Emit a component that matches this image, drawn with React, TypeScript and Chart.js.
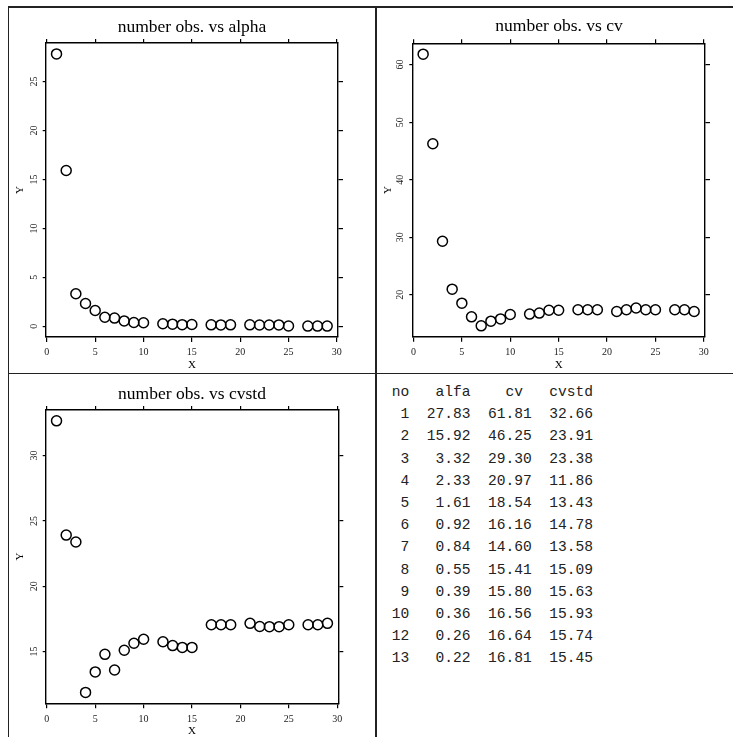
import React, { useEffect, useRef } from "react";
import { Chart, registerables } from "chart.js";

Chart.register(...registerables);

// observation numbers (x)
const obsNo = [1, 2, 3, 4, 5, 6, 7, 8, 9, 10, 12, 13, 14, 15, 17, 18, 19, 21, 22, 23, 24, 25, 27, 28, 29];
// series values
const alfa = [27.83, 15.92, 3.32, 2.33, 1.61, 0.92, 0.84, 0.55, 0.39, 0.36, 0.26, 0.22, 0.17, 0.18, 0.15, 0.14, 0.15, 0.15, 0.13, 0.13, 0.14, 0.03, 0.02, 0.02, 0.02];
const cv = [61.81, 46.25, 29.3, 20.97, 18.54, 16.16, 14.6, 15.41, 15.8, 16.56, 16.64, 16.81, 17.3, 17.3, 17.4, 17.4, 17.4, 17.1, 17.4, 17.7, 17.4, 17.4, 17.4, 17.4, 17.1];
const cvstd = [32.66, 23.91, 23.38, 11.86, 13.43, 14.78, 13.58, 15.09, 15.63, 15.93, 15.74, 15.45, 15.31, 15.31, 17.04, 17.04, 17.04, 17.15, 16.91, 16.9, 16.9, 17.04, 17.04, 17.04, 17.15];
const titles = ["number obs. vs alpha", "number obs. vs cv", "number obs. vs cvstd"];
const xTickStep = 5;
const yTickSteps = [5, 10, 5];
const tableRowCount = 12;
const tableHeader = "no   alfa    cv   cvstd";

const SERIF = "'Liberation Serif', 'Times New Roman', serif";

function extend(vals: number[]): [number, number] {
  const mn = Math.min(...vals);
  const mx = Math.max(...vals);
  const d = (mx - mn) * 0.04;
  return [mn - d, mx + d];
}

type Area = { l: number; t: number; r: number; b: number };

function Panel(props: {
  left: number; top: number; width: number; height: number; area: Area;
  title: string; titleCenter: number; ys: number[]; yStep: number;
}) {
  const { left, top, width, height, area, title, titleCenter, ys, yStep } = props;
  const ref = useRef<HTMLCanvasElement>(null);
  useEffect(() => {
    const [xmin, xmax] = extend(obsNo);
    const [ymin, ymax] = extend(ys);
    const titleSize = 17.5;
    const titleLH = titleSize * 1.2;
    const padTop = titleCenter - titleLH / 2;
    const topAxisH = area.t - padTop - titleLH;
    const tickFont = { family: SERIF, size: 10 };
    const grid = (len: number) => ({
      display: true, drawOnChartArea: false, drawTicks: true, tickLength: len,
      color: "#000", lineWidth: 1.2,
    });
    const border = { display: true, color: "#000", width: 1.4 };
    const chart = new Chart(ref.current as HTMLCanvasElement, {
      type: "scatter",
      data: {
        datasets: [
          {
            data: obsNo.map((x, i) => ({ x, y: ys[i] })),
            pointStyle: "circle",
            pointRadius: 5,
            pointHoverRadius: 5,
            pointBorderWidth: 1.5,
            pointBorderColor: "#000",
            pointBackgroundColor: "rgba(0,0,0,0)",
            showLine: false,
          } as any,
        ],
      },
      options: {
        responsive: false,
        animation: false,
        events: [],
        layout: { padding: 0 },
        plugins: {
          legend: { display: false },
          tooltip: { enabled: false },
          title: {
            display: true,
            text: title,
            color: "#000",
            font: { family: SERIF, size: titleSize, weight: "normal", lineHeight: 1.2 },
            padding: { top: padTop, bottom: 0 },
          },
        },
        scales: {
          x: {
            type: "linear", position: "bottom", min: xmin, max: xmax,
            ticks: {
              stepSize: xTickStep, includeBounds: false, autoSkip: false,
              maxRotation: 0, minRotation: 0, padding: 4.7, font: tickFont, color: "#222",
            },
            grid: grid(5), border,
            title: {
              display: true, text: "X", color: "#000",
              font: { family: SERIF, size: 11, lineHeight: 1.2 },
              padding: { top: 0, bottom: 0.4 },
            },
            afterFit: (s: any) => { s.height = height - area.b; },
          },
          x2: {
            type: "linear", position: "top", axis: "x", min: xmin, max: xmax,
            ticks: { display: false, stepSize: xTickStep, includeBounds: false },
            grid: grid(4), border,
            afterFit: (s: any) => { s.height = topAxisH; },
          },
          y: {
            type: "linear", position: "left", min: ymin, max: ymax,
            ticks: {
              stepSize: yStep, includeBounds: false, autoSkip: false,
              minRotation: 90, maxRotation: 90, crossAlign: "center",
              padding: 3.5, font: tickFont, color: "#222",
            },
            grid: grid(3), border,
            title: {
              display: true, text: "Y", color: "#000",
              font: { family: SERIF, size: 11, lineHeight: 1.2 },
              padding: { top: 4.4, bottom: 0 },
            },
            afterFit: (s: any) => { s.width = area.l; },
          },
          y2: {
            type: "linear", position: "right", axis: "y", min: ymin, max: ymax,
            ticks: { display: false, stepSize: yStep, includeBounds: false },
            grid: grid(5), border,
            afterFit: (s: any) => { s.width = width - area.r; },
          },
        } as any,
      },
    });
    return () => chart.destroy();
  }, []);
  return (
    <canvas
      ref={ref}
      width={width}
      height={height}
      style={{ position: "absolute", left, top, width, height, display: "block" }}
    />
  );
}

function fmt(v: number) {
  return v.toFixed(2).padStart(7, " ");
}

function Table() {
  const lines = [tableHeader];
  for (let i = 0; i < tableRowCount; i++) {
    lines.push(String(obsNo[i]).padStart(2, " ") + fmt(alfa[i]) + fmt(cv[i]) + fmt(cvstd[i]));
  }
  return (
    <div
      style={{
        position: "absolute", left: 391.7, top: 381, margin: 0,
        fontFamily: "'Liberation Mono', 'Courier New', monospace",
        fontSize: "14.6px", lineHeight: "22.2px", whiteSpace: "pre", color: "#222",
      }}
    >
      {lines.map((l, i) => (
        <div key={i}>{l}</div>
      ))}
    </div>
  );
}

const lineColor = "#222";

export default function App() {
  return (
    <div
      style={{
        position: "absolute", left: 0, top: 0, width: 733, height: 737,
        overflow: "hidden", background: "#fff",
      }}
    >
      <Panel left={9} top={8} width={366} height={364}
        area={{ l: 36.7, t: 35, r: 329, b: 329 }}
        title={titles[0]} titleCenter={19} ys={alfa} yStep={yTickSteps[0]} />
      <Panel left={377} top={8} width={364} height={364}
        area={{ l: 35.3, t: 35.3, r: 328, b: 328.7 }}
        title={titles[1]} titleCenter={18.8} ys={cv} yStep={yTickSteps[1]} />
      <Panel left={9} top={374} width={366} height={364}
        area={{ l: 36.7, t: 36, r: 329.3, b: 329.3 }}
        title={titles[2]} titleCenter={20} ys={cvstd} yStep={yTickSteps[2]} />
      <Table />
      <div style={{ position: "absolute", left: 8, top: 6, width: 725, height: 1.5, background: lineColor }} />
      <div style={{ position: "absolute", left: 7.5, top: 6, width: 1.5, height: 731, background: lineColor }} />
      <div style={{ position: "absolute", left: 375, top: 6, width: 1.5, height: 731, background: lineColor }} />
      <div style={{ position: "absolute", left: 8, top: 372.5, width: 725, height: 1.5, background: lineColor }} />
    </div>
  );
}
